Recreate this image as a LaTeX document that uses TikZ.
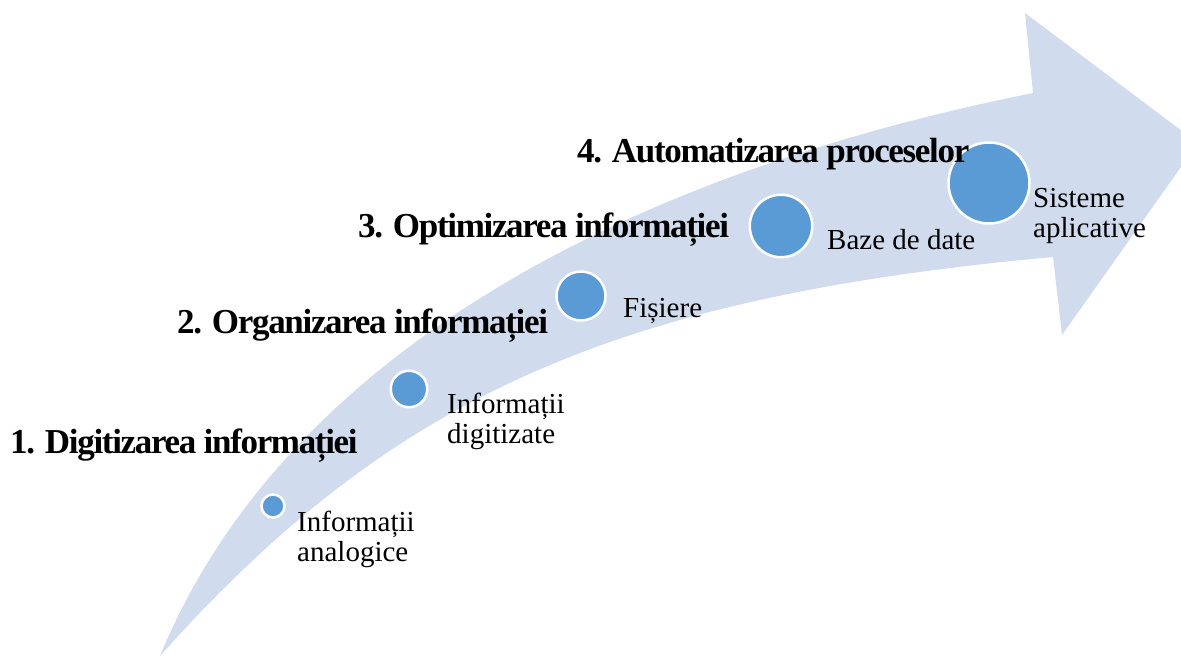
\documentclass[tikz,border=0pt]{standalone}
\usepackage{fontspec}
\setmainfont{Liberation Serif}
\newfontfamily\headfont[LetterSpace=-3.8]{Liberation Serif}
\definecolor{bandblue}{RGB}{208,220,238}
\definecolor{dotblue}{RGB}{91,155,213}
\tikzset{
  stage/.style={circle, fill=dotblue, draw=white, line width=2.5pt, inner sep=0pt},
  heading/.style={anchor=base west, inner sep=0pt,
    font=\headfont\bfseries\fontsize{35}{40}\selectfont},
  % multi-line captions are anchored at the baseline of their last line
  caption/.style={anchor=base west, inner sep=0pt, align=left,
    font=\fontsize{29}{30}\selectfont},
}
\begin{document}
\begin{tikzpicture}[x=1pt, y=-1pt]
\useasboundingbox (0,0) rectangle (1181,657);
% curved arrow band
\begin{scope}
  \clip (0,0) rectangle (1181,657);
  \fill[bandblue] (160,656) .. controls (273,381) and (579,184) .. (1033,93)
    -- (1025,13) -- (1198,143) -- (1062,335) -- (1053,257)
    .. controls (615,297) and (392,396) .. cycle;
\end{scope}
% stage markers
\node[stage, minimum size=23pt]   (s1) at (273,506) {};
\node[stage, minimum size=36.5pt] (s2) at (409,389) {};
\node[stage, minimum size=49pt]   (s3) at (581,296) {};
\node[stage, minimum size=62.5pt] (s4) at (781,226) {};
\node[stage, minimum size=81pt]   (s5) at (989,183) {};
% stage titles
\node[heading] (h1) at (10,453)  {1. Digitizarea informației};
\node[heading] (h2) at (177,333) {2. Organizarea informației};
\node[heading] (h3) at (358,237) {3. Optimizarea informației};
\node[heading] (h4) at (577,162) {4. Automatizarea proceselor};
% stage captions
\node[caption] (c1) at (297,561)  {Informații\\analogice};
\node[caption] (c2) at (447,443)  {Informații\\digitizate};
\node[caption] (c3) at (623,317)  {Fișiere};
\node[caption] (c4) at (827,249)  {Baze de date};
\node[caption] (c5) at (1033,237) {Sisteme\\aplicative};
\end{tikzpicture}
\end{document}
